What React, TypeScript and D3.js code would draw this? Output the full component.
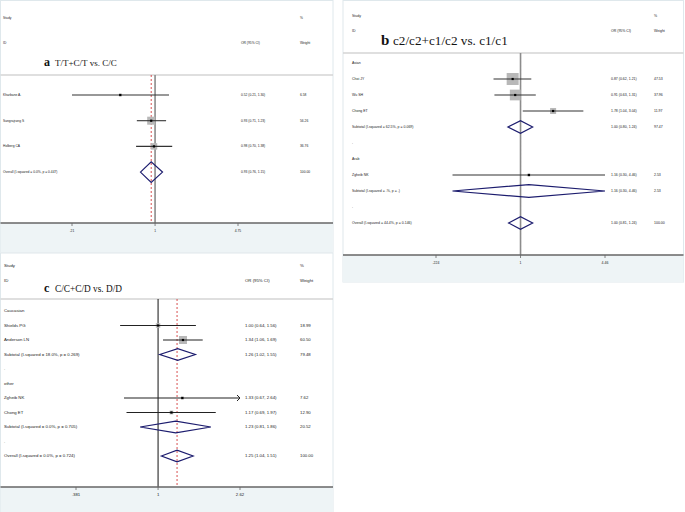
import React from "react";
import * as d3 from "d3";

// ---------- Panel a : T/T+C/T vs. C/C ----------
const aLabels = ["Kharbane A.", "Sangrajrang S", "Holberg CA", "Overall  (I-squared = 0.0%, p = 0.447)"];
const aKinds = ["study", "study", "study", "overall"];
const aOR = [0.52, 0.93, 0.98, 0.93];
const aLo = [0.21, 0.71, 0.7, 0.76];
const aHi = [1.3, 1.23, 1.38, 1.15];
const aWeight = [6.58, 56.26, 36.76, 100.0];
const aTicks = [0.21, 1, 4.75];
const aTickLabels = [".21", "1", "4.75"];

// ---------- Panel b : c2/c2+c1/c2 vs. c1/c1 ----------
const bLabels = [
  "Asian", "Choi JY", "Wu SH", "Chong ET",
  "Subtotal  (I-squared = 62.5%, p = 0.069)", ".",
  "Arab", "Zgheib NK", "Subtotal  (I-squared = .%, p = .)", ".",
  "Overall  (I-squared = 44.4%, p = 0.146)",
];
const bKinds = ["head", "study", "study", "study", "sub", "blank", "head", "study", "sub", "blank", "overall"];
const bOR = [null, 0.87, 0.91, 1.78, 1.0, null, null, 1.16, 1.16, null, 1.0];
const bLo = [null, 0.62, 0.63, 1.04, 0.8, null, null, 0.3, 0.3, null, 0.81];
const bHi = [null, 1.21, 1.31, 3.04, 1.24, null, null, 4.46, 4.46, null, 1.24];
const bWeight = [null, 47.53, 37.96, 11.97, 97.47, null, null, 2.53, 2.53, null, 100.0];
const bTicks = [0.224, 1, 4.46];
const bTickLabels = [".224", "1", "4.46"];

// ---------- Panel c : C/C+C/D vs. D/D ----------
const cLabels = [
  "Caucasian", "Shields PG", "Anderson LN",
  "Subtotal  (I-squared = 18.0%, p = 0.269)", ".",
  "other", "Zgheib NK", "Chong ET",
  "Subtotal  (I-squared = 0.0%, p = 0.705)", ".",
  "Overall  (I-squared = 0.0%, p = 0.724)",
];
const cKinds = ["head", "study", "study", "sub", "blank", "head", "study", "study", "sub", "blank", "overall"];
const cOR = [null, 1.0, 1.34, 1.26, null, null, 1.33, 1.17, 1.23, null, 1.25];
const cLo = [null, 0.64, 1.06, 1.02, null, null, 0.67, 0.69, 0.81, null, 1.04];
const cHi = [null, 1.56, 1.69, 1.55, null, null, 2.64, 1.97, 1.86, null, 1.51];
const cWeight = [null, 18.99, 60.5, 79.48, null, null, 7.62, 12.9, 20.52, null, 100.0];
const cTicks = [0.381, 1, 2.62];
const cTickLabels = [".381", "1", "2.62"];

const SANS = "Arial, 'Liberation Sans', sans-serif";
const SERIF = "'Liberation Serif', 'Times New Roman', serif";

type Layout = {
  x0: number; x1: number; top: number; headLine: number; axisY: number; bottom: number;
  studyY: number; idY: number; labelX: number; orX: number; wX: number;
  titleX: number; titleGap: number; titleY: number; letterSize: number; titleSize: number;
  xMin: number; xMax: number; row0: number; step: number; fs: number; sqK: number;
  nullColor: string; nullW: number; ciColor: string;
};

type PanelData = {
  letter: string; title: string;
  labels: string[]; kinds: string[];
  or: (number | null)[]; lo: (number | null)[]; hi: (number | null)[]; w: (number | null)[];
  ticks: number[]; tickLabels: string[];
  L: Layout;
};

function ForestPanel({ p }: { p: PanelData }) {
  const L = p.L;
  const x = d3.scaleLog().domain([p.ticks[0], p.ticks[p.ticks.length - 1]]).range([L.xMin, L.xMax]);
  const y = d3.scaleLinear().domain([0, 1]).range([L.row0, L.row0 + L.step]);
  const fmt = d3.format(".2f");
  const oi = p.kinds.indexOf("overall");
  const pooled = p.or[oi] as number;
  const dh = L.step * 0.4;
  const [dMin, dMax] = x.domain();

  return (
    <g>
      <rect x={L.x0} y={L.top} width={L.x1 - L.x0} height={L.bottom - L.top} fill="#fff" stroke="#dfe8ec" strokeWidth={1} />
      <rect x={L.x0} y={L.axisY} width={L.x1 - L.x0} height={L.bottom - L.axisY} fill="#eef4f6" />
      {/* headers */}
      <g fontFamily={SANS} fontSize={L.fs} fill="#222" dominantBaseline="middle">
        <text x={L.labelX} y={L.studyY}>Study</text>
        <text x={L.wX} y={L.studyY}>%</text>
        <text x={L.labelX} y={L.idY}>ID</text>
        <text x={L.orX} y={L.idY}>OR (95% CI)</text>
        <text x={L.wX} y={L.idY}>Weight</text>
      </g>
      <text x={L.titleX} y={L.titleY} fontFamily={SERIF} fontWeight="bold" fontSize={L.letterSize} fill="#111">{p.letter}</text>
      <text x={L.titleX + L.titleGap} y={L.titleY} fontFamily={SERIF} fontSize={L.titleSize} fill="#111">{p.title}</text>
      <line x1={L.x0} x2={L.x1} y1={L.headLine} y2={L.headLine} stroke="#d4d4d4" strokeWidth={1.5} />
      {/* pooled dashed line */}
      <line x1={x(pooled)} x2={x(pooled)} y1={L.headLine} y2={L.axisY} stroke="#d23c3c" strokeWidth={0.9} strokeDasharray="2,2" />
      {/* null line */}
      <line x1={x(1)} x2={x(1)} y1={L.headLine} y2={L.axisY} stroke={L.nullColor} strokeWidth={L.nullW} />
      {/* rows */}
      {p.labels.map((lab, i) => {
        const yy = y(i);
        const kind = p.kinds[i];
        const o = p.or[i], lo = p.lo[i], hi = p.hi[i], w = p.w[i];
        const items: React.ReactNode[] = [];
        items.push(
          <text key="l" x={L.labelX} y={yy} fontFamily={SANS} fontSize={L.fs} fill="#222" dominantBaseline="middle">{lab}</text>
        );
        if (o != null && lo != null && hi != null) {
          items.push(
            <text key="o" x={L.orX} y={yy} fontFamily={SANS} fontSize={L.fs} fill="#222" dominantBaseline="middle">
              {`${fmt(o)} (${fmt(lo)}, ${fmt(hi)})`}
            </text>
          );
          items.push(
            <text key="w" x={L.wX} y={yy} fontFamily={SANS} fontSize={L.fs} fill="#222" dominantBaseline="middle">{fmt(w as number)}</text>
          );
          const xl = x(Math.max(lo, dMin));
          const xh = x(Math.min(hi, dMax));
          if (kind === "study") {
            const s = L.sqK * Math.sqrt(w as number);
            items.push(<rect key="sq" x={x(o) - s / 2} y={yy - s / 2} width={s} height={s} fill="#b8b8b8" />);
            items.push(<line key="ci" x1={xl} x2={xh} y1={yy} y2={yy} stroke={L.ciColor} strokeWidth={1.1} />);
            if (hi > dMax) {
              items.push(<path key="ar" d={`M${xh - 3},${yy - 3}L${xh},${yy}L${xh - 3},${yy + 3}`} fill="none" stroke={L.ciColor} strokeWidth={1} />);
            }
            if (lo < dMin) {
              items.push(<path key="al" d={`M${xl + 3},${yy - 3}L${xl},${yy}L${xl + 3},${yy + 3}`} fill="none" stroke={L.ciColor} strokeWidth={1} />);
            }
            items.push(<rect key="pt" x={x(o) - 1.1} y={yy - 1.1} width={2.2} height={2.2} fill="#000" />);
          } else {
            items.push(
              <path key="d" d={`M${xl},${yy}L${x(o)},${yy - dh}L${xh},${yy}L${x(o)},${yy + dh}Z`} fill="none" stroke="#1c1c6e" strokeWidth={1.2} />
            );
          }
        }
        return <g key={i}>{items}</g>;
      })}
      {/* axis */}
      <line x1={L.x0} x2={L.x1} y1={L.axisY} y2={L.axisY} stroke="#666" strokeWidth={1.4} />
      {p.ticks.map((t, i) => (
        <g key={i}>
          <line x1={x(t)} x2={x(t)} y1={L.axisY} y2={L.axisY + 3} stroke="#666" strokeWidth={0.8} />
          <text x={x(t)} y={L.axisY + 8} fontFamily={SANS} fontSize={L.fs} fill="#222" textAnchor="middle" dominantBaseline="middle">{p.tickLabels[i]}</text>
        </g>
      ))}
    </g>
  );
}

const panels: PanelData[] = [
  {
    letter: "a", title: "T/T+C/T vs. C/C",
    labels: aLabels, kinds: aKinds, or: aOR, lo: aLo, hi: aHi, w: aWeight,
    ticks: aTicks, tickLabels: aTickLabels,
    L: {
      x0: 0.5, x1: 333, top: 0.5, headLine: 75, axisY: 223, bottom: 252,
      studyY: 18, idY: 43, labelX: 3, orX: 241, wX: 300,
      titleX: 44, titleGap: 11, titleY: 66, letterSize: 12, titleSize: 9,
      xMin: 72, xMax: 238, row0: 95, step: 25.7, fs: 3.3, sqK: 1.07,
      nullColor: "#8c8c8c", nullW: 1.6, ciColor: "#333",
    },
  },
  {
    letter: "b", title: "c2/c2+c1/c2 vs. c1/c1",
    labels: bLabels, kinds: bKinds, or: bOR, lo: bLo, hi: bHi, w: bWeight,
    ticks: bTicks, tickLabels: bTickLabels,
    L: {
      x0: 343, x1: 683.5, top: 0.5, headLine: 53, axisY: 255, bottom: 282,
      studyY: 16, idY: 31, labelX: 352, orX: 611, wX: 654,
      titleX: 381, titleGap: 12, titleY: 45, letterSize: 15, titleSize: 13.2,
      xMin: 436, xMax: 605, row0: 63, step: 16, fs: 3.5, sqK: 1.74,
      nullColor: "#8c8c8c", nullW: 1.6, ciColor: "#333",
    },
  },
  {
    letter: "c", title: "C/C+C/D vs. D/D",
    labels: cLabels, kinds: cKinds, or: cOR, lo: cLo, hi: cHi, w: cWeight,
    ticks: cTicks, tickLabels: cTickLabels,
    L: {
      x0: 0.5, x1: 333, top: 253, headLine: 299, axisY: 487, bottom: 512,
      studyY: 266, idY: 281, labelX: 4, orX: 245, wX: 300,
      titleX: 44, titleGap: 11, titleY: 292, letterSize: 12, titleSize: 9.3,
      xMin: 76, xMax: 240, row0: 311, step: 14.5, fs: 4.3, sqK: 1.03,
      nullColor: "#111", nullW: 1, ciColor: "#222",
    },
  },
];

export default function App() {
  return (
    <div style={{ position: "absolute", left: 0, top: 0 }}>
      <svg width={685} height={512} style={{ display: "block", background: "#fff" }}>
        {panels.map((p, i) => (
          <ForestPanel key={i} p={p} />
        ))}
      </svg>
    </div>
  );
}
